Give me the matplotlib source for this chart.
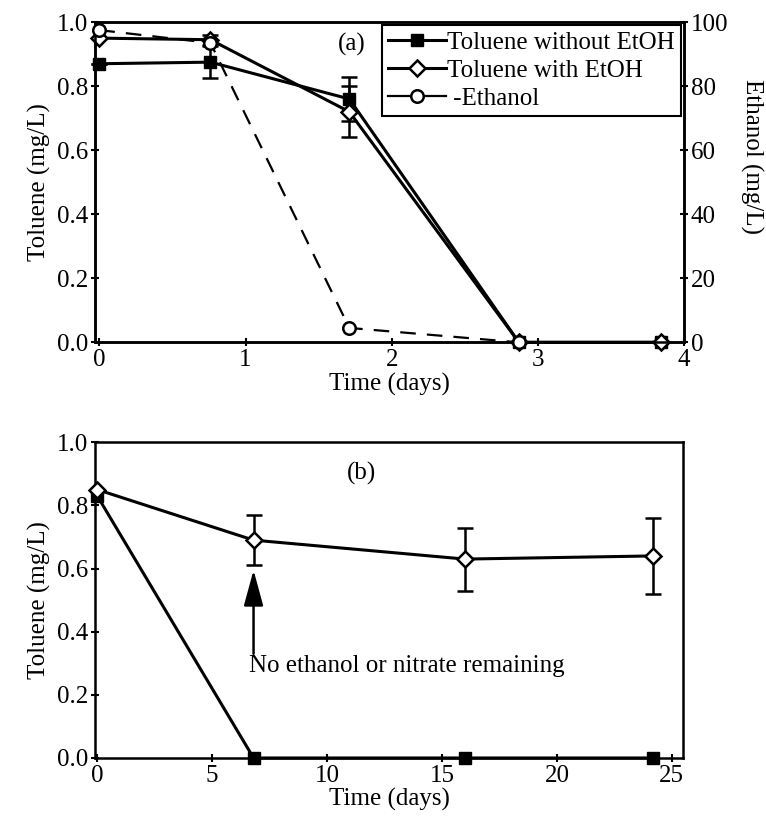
import numpy as np
import matplotlib.pyplot as plt
from matplotlib.lines import Line2D

plt.rcParams['font.family'] = ['Liberation Serif', 'DejaVu Serif']
plt.rcParams['font.size'] = 18

# panel (a)
t_a = [0, 0.76, 1.71, 2.87, 3.84]
tol_no = [0.87, 0.875, 0.76, 0.0, 0.0]
tol_no_err = [0, 0.05, 0.07, 0, 0]
tol_et = [0.95, 0.945, 0.72, 0.0, 0.0]
tol_et_err = [0, 0.015, 0.08, 0, 0]
t_eth = [0, 0.76, 1.71, 2.87]
ethanol = [97.5, 93.5, 4.5, 0.0]

# panel (b)
t_b = [0, 6.8, 16.0, 24.2]
tol_no_b = [0.83, 0.0, 0.0, 0.0]
tol_et_b = [0.85, 0.69, 0.63, 0.64]
tol_et_b_err = [0, 0.08, 0.10, 0.12]

fig = plt.figure(figsize=(7.66, 8.19), dpi=100)
ax1 = fig.add_axes([0.124, 0.582, 0.769, 0.391])
ax2 = fig.add_axes([0.124, 0.0745, 0.768, 0.3855])

lw = 2.2
ebar = dict(capsize=6, elinewidth=1.8, capthick=1.8)
ax1.errorbar(t_a, tol_no, yerr=tol_no_err, color='black', lw=lw, marker='s', ms=9,
             mfc='black', mec='black', clip_on=False, zorder=3, **ebar)
ax1.errorbar(t_a, tol_et, yerr=tol_et_err, color='black', lw=lw, marker='D', ms=8,
             mfc='white', mec='black', mew=1.8, clip_on=False, zorder=3, **ebar)
ax1r = ax1.twinx()
ax1r.plot(t_eth, ethanol, color='black', lw=1.6, ls=(0, (7, 5)), marker='o', ms=9,
          mfc='white', mec='black', mew=1.8, clip_on=False, zorder=4)
ax1r.set_ylim(0, 100)
ax1r.set_yticks([0, 20, 40, 60, 80, 100])
ax1r.set_ylabel('Ethanol (mg/L)', rotation=270, va='center')
ax1r.yaxis.set_label_coords(1.115, 0.58)

ax1.set_xlim(-0.03, 4.0)
ax1.set_ylim(0, 1.0)
ax1.set_xticks([0, 1, 2, 3, 4])
ax1.set_yticks(np.arange(0, 1.01, 0.2))
ax1.set_yticklabels(['0.0', '0.2', '0.4', '0.6', '0.8', '1.0'])
ax1.set_xlabel('Time (days)', labelpad=1)
ax1.set_ylabel('Toluene (mg/L)', labelpad=4)
ax1.text(1.73, 0.93, '(a)', ha='center', va='center')

h1 = Line2D([], [], color='black', lw=lw, marker='s', ms=9, mfc='black')
h2 = Line2D([], [], color='black', lw=lw, marker='D', ms=8, mfc='white', mew=1.8)
h3 = Line2D([], [], color='black', lw=1.6, marker='o', ms=9, mfc='white', mew=1.8)
leg = ax1.legend([h1, h2, h3], ['Toluene without EtOH', 'Toluene with EtOH', ' -Ethanol'],
                 loc='upper right', bbox_to_anchor=(0.995, 0.99), frameon=True, fancybox=False,
                 edgecolor='black', handlelength=2.3, handletextpad=0.05, borderpad=0.25,
                 labelspacing=0.22, borderaxespad=0, framealpha=1)
leg.get_frame().set_linewidth(1.5)

ax2.errorbar(t_b, tol_no_b, color='black', lw=lw, marker='s', ms=9, mfc='black',
             clip_on=False, zorder=3)
ax2.errorbar(t_b, tol_et_b, yerr=tol_et_b_err, color='black', lw=lw, marker='D', ms=8,
             mfc='white', mec='black', mew=1.8, clip_on=False, zorder=3, **ebar)
ax2.set_xlim(-0.1, 25.5)
ax2.set_ylim(0, 1.0)
ax2.set_xticks([0, 5, 10, 15, 20, 25])
ax2.set_yticks(np.arange(0, 1.01, 0.2))
ax2.set_yticklabels(['0.0', '0.2', '0.4', '0.6', '0.8', '1.0'])
ax2.set_xlabel('Time (days)', labelpad=1)
ax2.set_ylabel('Toluene (mg/L)', labelpad=4)
ax2.text(11.5, 0.90, '(b)', ha='center', va='center')
ax2.annotate('', xy=(6.8, 0.595), xytext=(6.8, 0.33),
             arrowprops=dict(arrowstyle='-|>,head_length=1.1,head_width=0.3', color='black',
                             lw=1.8, mutation_scale=20, shrinkA=0, shrinkB=0))
ax2.text(6.6, 0.29, 'No ethanol or nitrate remaining', ha='left', va='center')

for a in [ax1, ax1r, ax2]:
    for s in a.spines.values():
        s.set_linewidth(1.8)
    a.tick_params(direction='inout', length=6, width=1.5, labelsize=18, pad=2)

fig.savefig('out.png', dpi=100)
